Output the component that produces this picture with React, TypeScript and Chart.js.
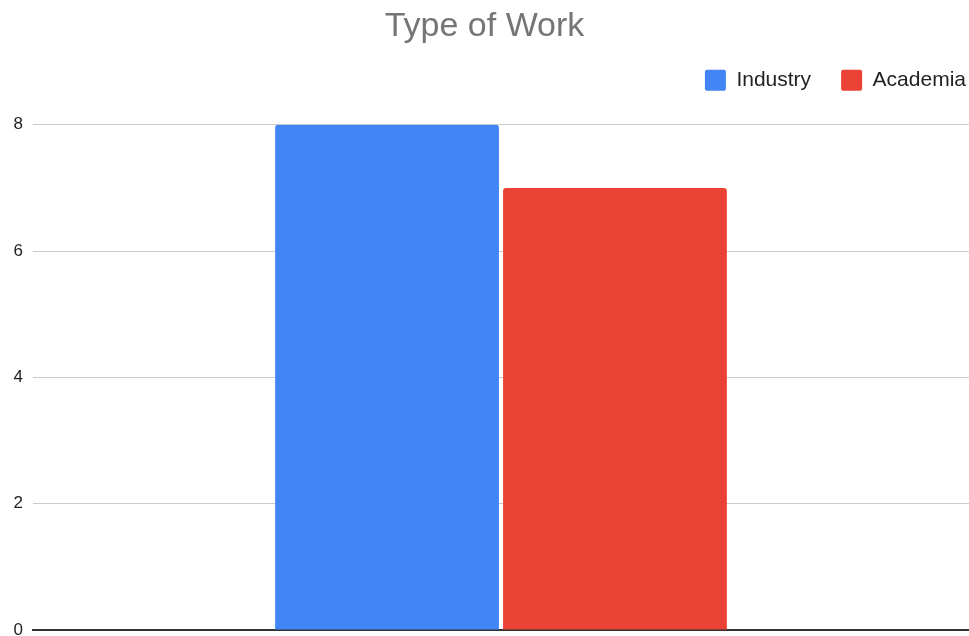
import React, { useEffect, useRef } from "react";
import { Chart, registerables } from "chart.js";

Chart.register(...registerables);

const categories = [""];
const seriesNames = ["Industry", "Academia"];
const industryValues = [8];
const academiaValues = [7];
const seriesColors = ["#4285F4", "#EA4335"];
const yTicks = [0, 2, 4, 6, 8];

const FONT = "'Liberation Sans', Arial, sans-serif";

export default function App() {
  const ref = useRef<HTMLCanvasElement | null>(null);

  useEffect(() => {
    if (!ref.current) return;
    const legendSpacer = {
      id: "legendSpacer",
      afterInit(chart: any) {
        const lg = chart.legend;
        if (!lg) return;
        const orig = lg.fit.bind(lg);
        lg.fit = function () {
          orig();
          this.height += 24;
        };
      },
      afterLayout(chart: any) {
        const lg = chart.legend;
        if (!lg) return;
        lg.left += 27;
        lg.right += 27;
      },
    };
    const chart = new Chart(ref.current, {
      type: "bar",
      data: {
        labels: categories,
        datasets: [
          {
            label: seriesNames[0],
            data: industryValues,
            backgroundColor: seriesColors[0],
            borderRadius: 3,
            categoryPercentage: 0.487,
            barPercentage: 0.982,
          },
          {
            label: seriesNames[1],
            data: academiaValues,
            backgroundColor: seriesColors[1],
            borderRadius: 3,
            categoryPercentage: 0.487,
            barPercentage: 0.982,
          },
        ],
      },
      options: {
        animation: false,
        responsive: false,
        maintainAspectRatio: false,
        layout: { padding: 0 },
        plugins: {
          title: {
            display: true,
            text: "Type of Work",
            color: "#757575",
            font: { family: FONT, size: 34, weight: "normal" },
            padding: { top: 6, bottom: -7 },
          },
          legend: {
            display: true,
            position: "top",
            align: "end",
            labels: {
              color: "#222222",
              font: { family: FONT, size: 21 },
              boxWidth: 21,
              boxHeight: 21,
              padding: 30,
              useBorderRadius: true,
              borderRadius: 2,
            },
          },
          tooltip: { enabled: false },
        },
        scales: {
          x: {
            grid: { display: false },
            ticks: { display: false },
            border: { display: true, color: "#333333", width: 2 },
            afterFit: (s: any) => {
              s.height = 6;
              s.paddingLeft = 0;
              s.paddingRight = 0;
              s.paddingTop = 0;
              s.paddingBottom = 0;
            },
          },
          y: {
            min: 0,
            max: 8,
            afterBuildTicks: (s: any) => {
              s.ticks = yTicks.map((v) => ({ value: v }));
            },
            grid: { color: "#cccccc", lineWidth: 1, drawTicks: false },
            border: { display: false },
            ticks: {
              color: "#222222",
              font: { family: FONT, size: 17 },
              padding: 10,
            },
            afterFit: (s: any) => {
              s.width = 33;
              s.paddingTop = 0;
              s.paddingBottom = 0;
              s.paddingLeft = 0;
              s.paddingRight = 0;
            },
          },
        },
      },
      plugins: [legendSpacer],
    });
    return () => chart.destroy();
  }, []);

  return (
    <div style={{ position: "fixed", left: 0, top: 0, width: 969, height: 636, background: "#ffffff" }}>
      <canvas ref={ref} width={969} height={636} style={{ display: "block", width: 969, height: 636 }} />
    </div>
  );
}
